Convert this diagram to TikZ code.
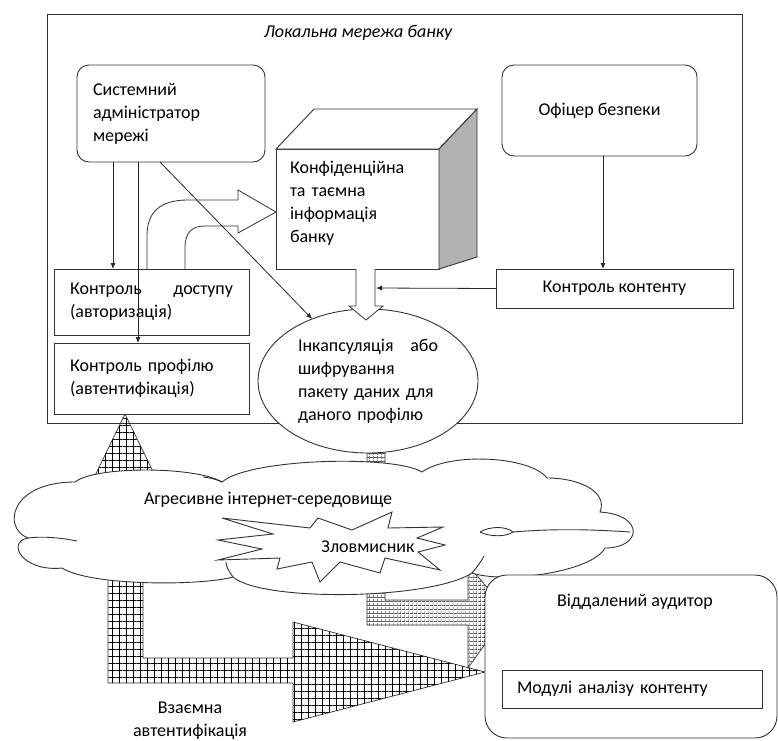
\documentclass[tikz,border=0pt]{standalone}
\usepackage{fontspec}
\setmainfont{Carlito}
\usetikzlibrary{arrows.meta,positioning,calc,shapes.geometric,patterns.meta}

\begin{document}
\begin{tikzpicture}[
    x=1pt, y=-1pt,
    font=\fontsize{18}{23}\selectfont,
    every node/.style={inner sep=0pt, outer sep=0pt},
    line/.style={draw=black!80, line width=0.9pt},
    box/.style={line, fill=white, rectangle, align=left, inner xsep=16pt},
    rbox/.style={box, rounded corners=12pt},
    arrow/.style={-{Latex[length=6pt,width=5pt]}, line width=0.8pt, draw=black!85},
    gridfill/.style={line, line width=0.7pt,
      pattern={Lines[angle=0,distance=#1,line width=0.6pt]},
      postaction={pattern={Lines[angle=90,distance=#1,line width=0.6pt]}}},
    blockarrow/.style={line, line width=0.8pt}
  ]
  \useasboundingbox (0,0) rectangle (778,740);

  % local network of the bank
  \node[line, rectangle, minimum width=695pt, minimum height=409pt, anchor=north west] (lan) at (47,14) {};
  \node[font=\fontsize{18}{23}\selectfont\itshape] (lantitle) at (358,33) {Локальна мережа банку};

  % hatched channels
  \draw[gridfill=7pt] (125,414) -- (162,490) -- (143,490) -- (143,658) -- (293,658) -- (293,622)
    -- (485,672) -- (293,722) -- (293,683) -- (108,683) -- (108,490) -- (88,490) -- cycle;
  \draw[gridfill=4pt] (367,440) -- (367,625) -- (468,625) -- (468,668) -- (508,612)
    -- (468,565) -- (468,600) -- (385,600) -- (385,440) -- cycle;

  \node[line, ellipse, fill=white, minimum width=220pt, minimum height=144pt,
    text width=140pt, align=left] (enc) at (368,381)
    {Інкапсуляція\hfill або\\шифрування\\пакету даних для\\даного профілю};

  \node[rbox, minimum width=188pt, minimum height=97pt, text width=156pt] (admin) at (171,113.5)
    {Системний\\адміністратор\\мережі};
  \node[rbox, minimum width=195pt, minimum height=91pt, align=center] (officer) at (599.5,110.5)
    {Офіцер безпеки};
  \node[box, minimum width=237pt, minimum height=39pt, align=center] (content) at (614.5,288.5)
    {Контроль контенту};
  \node[box, minimum width=195pt, minimum height=66pt, text width=163pt] (access) at (151.5,302)
    {Контроль\hfill доступу\\(авторизація)};
  \node[box, minimum width=195pt, minimum height=71pt, text width=163pt] (profile) at (151.5,378.5)
    {Контроль профілю\\(автентифікація)};

  % cube
  \node[box, minimum width=163pt, minimum height=120pt, text width=135pt, inner xsep=14pt] (cube) at (357.5,209)
    {Конфіденційна\\та таємна\\інформація\\банку\\[-9pt]\mbox{}};
  \draw[line, fill=white] (cube.north west) -- ++(38,-40) -- ++(163,0) -- (cube.north east) -- cycle;
  \draw[line, fill=black!30] (cube.north east) -- ++(38,-40) -- ++(0,148) -- (cube.south east) -- cycle;

  \draw[arrow] (admin.south -| 113,0) -- (access.north -| 113,0);
  \draw[arrow] (admin.south -| 138,0) -- (profile.north -| 138,0);
  \draw[arrow] (admin.south -| 160,0) -- (enc.132);
  \draw[arrow] (officer.south -| 603,0) -- (content.north -| 603,0);

  \draw[blockarrow, fill=white] (356,269) -- (356,306) -- (349,306) -- (366,320) -- (383,306) -- (375,306) -- (375,269);
  \coordinate (encin) at (376,288);
  \draw[arrow] (content.west) -- (encin);

  \draw[blockarrow] (147,269) -- (147,236) .. controls (147,212) and (160,200) .. (188,200) -- (238,200)
    -- (238,190) -- (276,212) -- (238,233) -- (238,226) -- (205,226)
    .. controls (192,226) and (185,232) .. (185,248) -- (185,269);

  % internet
  \draw[line, fill=white] (28,538)
    .. controls (2,528) and (10,482) .. (75,482)
    .. controls (95,466) and (195,466) .. (222,482)
    .. controls (250,458) and (395,455) .. (422,472)
    .. controls (450,452) and (530,456) .. (547,478)
    .. controls (580,478) and (608,492) .. (600,512)
    .. controls (645,515) and (642,548) .. (605,548)
    .. controls (592,572) and (505,584) .. (472,573)
    .. controls (430,600) and (262,602) .. (233,577)
    .. controls (200,586) and (90,586) .. (62,568)
    .. controls (22,572) and (6,542) .. (28,538) -- cycle;
  \draw[line] (28,538) .. controls (45,536) and (62,538) .. (77,541);
  \draw[line] (203,477) .. controls (212,478) and (218,480) .. (222,482);
  \draw[line] (233,577) .. controls (228,570) and (226,566) .. (226,562);
  \draw[line] (472,573) .. controls (478,566) and (482,560) .. (484,556);
  \draw[line] (480,532) .. controls (490,526) and (506,526) .. (513,532)
    .. controls (506,537) and (490,537) .. (480,532);
  \draw[line] (513,532) .. controls (560,528) and (600,530) .. (630,532);
  \node (nettext) at (268,500) {Агресивне інтернет-середовище};
  \draw[line, fill=white] (222,518) -- (273,534) -- (218,540) -- (262,549) -- (218,560) -- (280,558)
    -- (277,569) -- (312,562) -- (320,582) -- (340,562) -- (380,573) -- (385,558) -- (440,570)
    -- (418,552) -- (445,545) -- (417,538) -- (443,527) -- (388,528) -- (392,512) -- (352,530)
    -- (318,518) -- (310,528) -- cycle;
  \node (attacker) at (368,547) {Зловмисник};

  % remote auditor
  \node[rbox, rounded corners=22pt, minimum width=292pt, minimum height=163pt, anchor=north west] (auditor) at (485,575) {};
  \node (audtitle) at (635,602) {Віддалений аудитор};
  \node[box, minimum width=260pt, minimum height=38pt, text width=230pt, inner xsep=15pt, anchor=north west] (modules) at (502,670)
    {Модулі аналізу контенту};

  \node[align=center] (mutual) at (190,721) {Взаємна\\автентифікація};
\end{tikzpicture}
\end{document}
